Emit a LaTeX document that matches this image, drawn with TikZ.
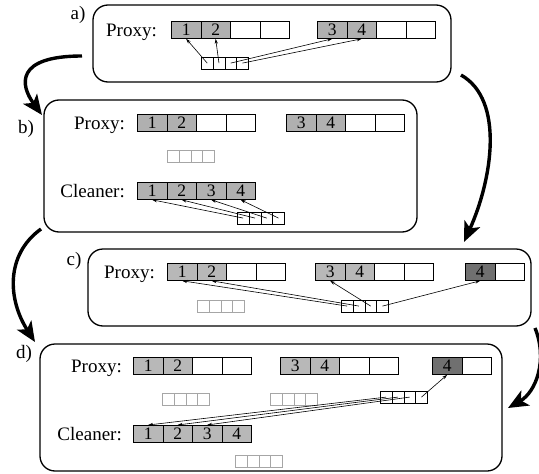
\documentclass[tikz,border=0pt]{standalone}
\usepackage{fontspec}
\setmainfont{Liberation Serif}
\usetikzlibrary{arrows.meta}

\colorlet{live}{black!31}
\colorlet{stale}{black!28}
\colorlet{moved}{black!56}

\begin{document}
\begin{tikzpicture}[x=1pt, y=-1pt,
		panel/.style={draw, line width=1.3pt, rounded corners=15pt},
		cell/.style={draw, line width=0.8pt, minimum width=29.5pt, minimum height=17pt,
			inner sep=0pt, anchor=north west, font=\fontsize{17.5}{17.5}\selectfont},
		slot/.style={draw, line width=0.7pt, minimum width=11.75pt, minimum height=11.5pt,
			inner sep=0pt, anchor=north west},
		oldslot/.style={slot, draw=black!35},
		lbl/.style={anchor=base east, inner sep=0pt, font=\fontsize{19}{19}\selectfont},
		tag/.style={inner sep=0pt, font=\fontsize{19}{19}\selectfont},
		ptr/.style={-{Stealth[length=5pt,width=3.2pt]}, line width=0.6pt},
		flow/.style={-{Stealth[length=20pt,width=17pt,inset=5pt]}, line width=3.4pt}]
	\useasboundingbox (0,0) rectangle (539,474);

	% a) two blocks in the proxy
	\draw[panel] (93,5) rectangle (451,82);
	\node[tag] (atag) at (78,15) {a)};
	\node[lbl] (aproxy) at (157,36) {Proxy:};
	\foreach \t/\f [count=\i] in {1/live,2/live,{}/white,{}/white}
		\node[cell, fill=\f] (aP\i) at ({171+29.5*(\i-1)},21) {\t};
	\foreach \t/\f [count=\i] in {3/live,4/live,{}/white,{}/white}
		\node[cell, fill=\f] (aQ\i) at ({317+29.5*(\i-1)},21) {\t};
	\foreach \i in {1,...,4}
		\node[slot] (aS\i) at ({201+11.75*(\i-1)},57) {};
	\draw[ptr] (aS1.center) -- (aP1.south);
	\draw[ptr] (aS2.center) -- (aP2.south);
	\draw[ptr] (aS3.center) -- (aQ1.south);
	\draw[ptr] (aS4.center) -- (aQ2.south);

	% b) copied to the cleaner
	\draw[panel] (44,100) rectangle (417,232);
	\node[tag] (btag) at (26,129) {b)};
	\node[lbl] (bproxy) at (125,129) {Proxy:};
	\foreach \t/\f [count=\i] in {1/live,2/live,{}/white,{}/white}
		\node[cell, fill=\f] (bP\i) at ({137+29.5*(\i-1)},114) {\t};
	\foreach \t/\f [count=\i] in {3/live,4/live,{}/white,{}/white}
		\node[cell, fill=\f] (bQ\i) at ({286+29.5*(\i-1)},114) {\t};
	\foreach \i in {1,...,4}
		\node[oldslot] (bO\i) at ({167+11.75*(\i-1)},150) {};
	\node[lbl] (bclean) at (125,197) {Cleaner:};
	\foreach \t [count=\i] in {1,2,3,4}
		\node[cell, fill=live] (bC\i) at ({137+29.5*(\i-1)},182) {\t};
	\foreach \i in {1,...,4}
		\node[slot] (bS\i) at ({237+11.75*(\i-1)},212) {};
	\foreach \i in {1,...,4}
		\draw[ptr] (bS\i.center) -- (bC\i.south);

	% c) block 4 rewritten
	\draw[panel] (88,249) rectangle (531,326);
	\node[tag] (ctag) at (74,261) {c)};
	\node[lbl] (cproxy) at (155,278) {Proxy:};
	\foreach \t/\f [count=\i] in {1/stale,2/stale,{}/white,{}/white}
		\node[cell, fill=\f] (cP\i) at ({167+29.5*(\i-1)},263) {\t};
	\foreach \t/\f [count=\i] in {3/stale,4/stale,{}/white,{}/white}
		\node[cell, fill=\f] (cQ\i) at ({315+29.5*(\i-1)},263) {\t};
	\foreach \t/\f [count=\i] in {4/moved,{}/white}
		\node[cell, fill=\f] (cR\i) at ({465+29.5*(\i-1)},263) {\t};
	\foreach \i in {1,...,4}
		\node[oldslot] (cO\i) at ({197+11.75*(\i-1)},300) {};
	\foreach \i in {1,...,4}
		\node[slot] (cS\i) at ({341+11.75*(\i-1)},300) {};
	\draw[ptr] (cS1.center) -- (cP1.south);
	\draw[ptr] (cS2.center) -- (cP2.south);
	\draw[ptr] (cS3.center) -- (cQ1.south);
	\draw[ptr] (cS4.center) -- (cR1.south);

	% d) cleaner holds 1-3, proxy keeps the new 4
	\draw[panel] (40,344) rectangle (502,471);
	\node[tag] (dtag) at (24,354) {d)};
	\node[lbl] (dproxy) at (122,372) {Proxy:};
	\foreach \t/\f [count=\i] in {1/stale,2/stale,{}/white,{}/white}
		\node[cell, fill=\f] (dP\i) at ({133+29.5*(\i-1)},357) {\t};
	\foreach \t/\f [count=\i] in {3/stale,4/stale,{}/white,{}/white}
		\node[cell, fill=\f] (dQ\i) at ({280+29.5*(\i-1)},357) {\t};
	\foreach \t/\f [count=\i] in {4/moved,{}/white}
		\node[cell, fill=\f] (dR\i) at ({432+29.5*(\i-1)},357) {\t};
	\foreach \i in {1,...,4} {
		\node[oldslot] (dO\i) at ({162+11.75*(\i-1)},393) {};
		\node[oldslot] (dN\i) at ({270+11.75*(\i-1)},393) {};
		\node[oldslot] (dL\i) at ({235+11.75*(\i-1)},455) {};
		\node[slot] (dS\i) at ({380+11.75*(\i-1)},391) {};
	}
	\node[lbl] (dclean) at (122,440) {Cleaner:};
	\foreach \t [count=\i] in {1,2,3,4}
		\node[cell, fill=stale] (dC\i) at ({133+29.5*(\i-1)},425) {\t};
	\foreach \i in {1,2,3}
		\draw[ptr] (dS\i.center) -- (dC\i.north);
	\draw[ptr] (dS4.center) -- (dR1.south);

	% steps between the panels
	\coordinate (ab0) at (82,56);
	\coordinate (ab1) at (42,115);
	\coordinate (ac0) at (461,75);
	\coordinate (ac1) at (464,242);
	\coordinate (bd0) at (41,229);
	\coordinate (bd1) at (35,342);
	\coordinate (cd0) at (535,328);
	\coordinate (cd1) at (508,408);
	\draw[flow] (ab0) .. controls (15,56) and (20,85) .. (ab1);
	\draw[flow] (ac0) .. controls (505,100) and (492,180) .. (ac1);
	\draw[flow] (bd0) .. controls (5,255) and (8,300) .. (bd1);
	\draw[flow] (cd0) .. controls (548,360) and (536,392) .. (cd1);
\end{tikzpicture}
\end{document}
